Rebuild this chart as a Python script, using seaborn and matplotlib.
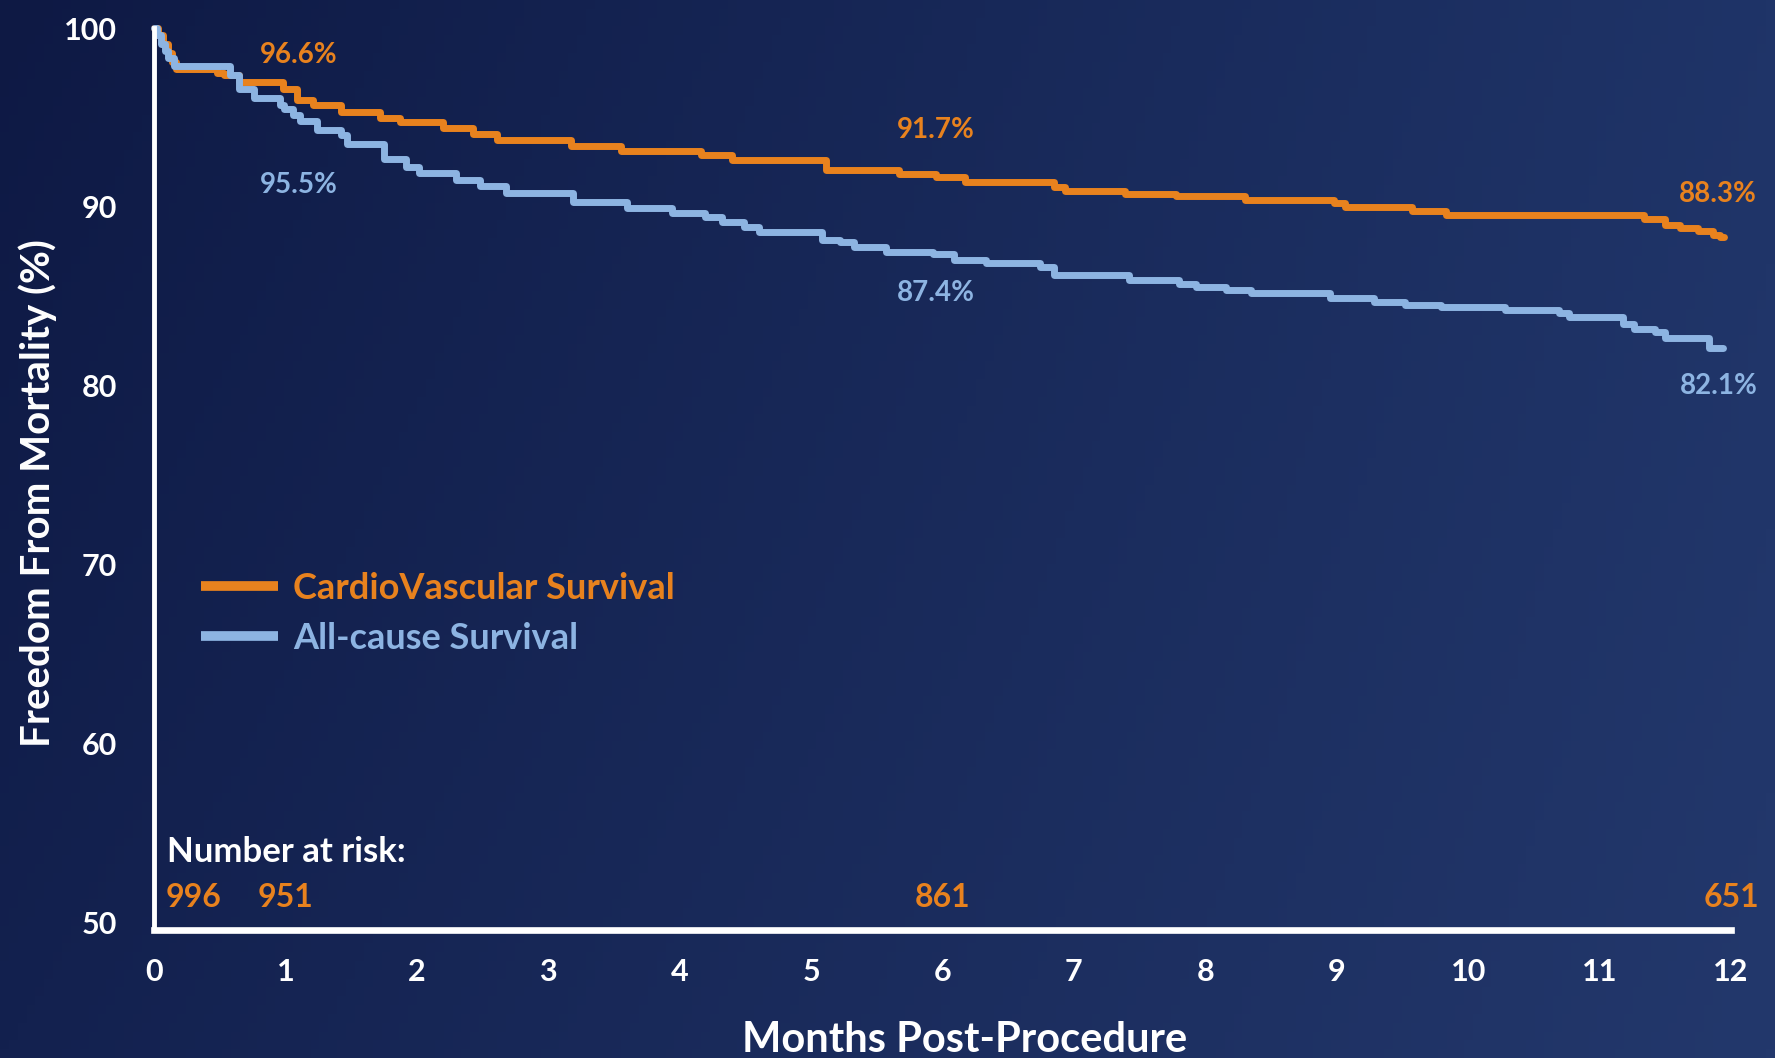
import numpy as np
import pandas as pd
import matplotlib
matplotlib.use("Agg")
import matplotlib.pyplot as plt
import seaborn as sns

# Kaplan-Meier step curves (months post-procedure, % free from mortality)
months_cv = [0, 0.03, 0.07, 0.11, 0.14, 0.17, 0.48, 0.53, 0.65, 0.98,
             1.09, 1.21, 1.42, 1.72, 1.87, 2.20, 2.43, 2.61, 3.17, 3.55,
             4.16, 4.40, 5.11, 5.67, 5.95, 6.17, 6.85, 6.93, 7.39, 7.78,
             8.30, 8.98, 9.06, 9.57, 9.83, 11.34, 11.50, 11.61, 11.75, 11.86,
             11.92, 11.95]
surv_cv = [100, 99.6, 99.1, 98.6, 98.1, 97.7, 97.5, 97.35, 97.0, 96.6,
           96.0, 95.7, 95.3, 94.95, 94.77, 94.4, 94.1, 93.75, 93.4, 93.1,
           92.9, 92.6, 92.07, 91.84, 91.7, 91.4, 91.1, 90.9, 90.7, 90.6,
           90.39, 90.2, 90.02, 89.8, 89.55, 89.35, 89.0, 88.8, 88.65, 88.45,
           88.3, 88.3]

months_all = [0, 0.02, 0.05, 0.08, 0.11, 0.15, 0.58, 0.65, 0.76, 0.96,
              0.99, 1.06, 1.11, 1.24, 1.42, 1.47, 1.75, 1.92, 2.02, 2.30,
              2.48, 2.68, 3.19, 3.60, 3.94, 4.19, 4.32, 4.49, 4.60, 5.08,
              5.22, 5.33, 5.57, 5.93, 6.09, 6.33, 6.74, 6.85, 7.42, 7.80,
              7.93, 8.16, 8.35, 8.95, 9.28, 9.52, 9.79, 10.28, 10.69, 10.77,
              11.18, 11.26, 11.42, 11.50, 11.83, 11.94]
surv_all = [100, 99.6, 99.1, 98.7, 98.3, 97.9, 97.4, 96.6, 96.1, 95.7,
            95.5, 95.15, 94.8, 94.3, 94.0, 93.5, 92.7, 92.25, 91.9, 91.5,
            91.15, 90.8, 90.3, 89.93, 89.65, 89.46, 89.18, 88.9, 88.62, 88.16,
            88.06, 87.78, 87.5, 87.4, 87.04, 86.85, 86.67, 86.2, 85.92, 85.68,
            85.51, 85.36, 85.18, 84.9, 84.7, 84.53, 84.4, 84.25, 84.06, 83.84,
            83.46, 83.2, 83.0, 82.67, 82.1, 82.1]

series_names = ["CardioVascular Survival", "All-cause Survival"]

# Milestone estimates at 1, 6 and 12 months
milestone_months = [1, 6, 12]
milestones_cv = [96.6, 91.7, 88.3]
milestones_all = [95.5, 87.4, 82.1]

# Number at risk
risk_months = [0, 1, 6, 12]
risk_counts = [996, 951, 861, 651]

x_ticks = list(range(0, 13))
y_ticks = list(range(50, 101, 10))

ORANGE = "#E8821E"
BLUE = "#8DB4E2"
WHITE = "#FFFFFF"

sns.set_theme(style="white")
plt.rcParams["font.family"] = ["Lato", "DejaVu Sans"]
plt.rcParams["font.weight"] = "bold"
plt.rcParams["axes.labelweight"] = "bold"

fig = plt.figure(figsize=(17.75, 10.58), dpi=100)

# navy gradient backdrop
bg = fig.add_axes([0, 0, 1, 1])
gx, gy = np.meshgrid(np.linspace(0, 1, 200), np.linspace(0, 1, 120))
tl = np.array([0x0e, 0x19, 0x44]) / 255
tr = np.array([0x1f, 0x34, 0x68]) / 255
bl = np.array([0x13, 0x21, 0x4f]) / 255
br = np.array([0x23, 0x38, 0x6c]) / 255
top = tl[None, None, :] * (1 - gx[..., None]) + tr[None, None, :] * gx[..., None]
bot = bl[None, None, :] * (1 - gx[..., None]) + br[None, None, :] * gx[..., None]
grad = top * (1 - gy[..., None]) + bot * gy[..., None]
bg.imshow(grad, extent=[0, 1, 0, 1], aspect="auto", origin="upper")
bg.set_axis_off()

ax = fig.add_axes([0.08676, 0.12098, 0.88845, 0.85255])
ax.patch.set_alpha(0)

df = pd.concat([
    pd.DataFrame({"Months": months_cv, "Survival": surv_cv, "Curve": series_names[0]}),
    pd.DataFrame({"Months": months_all, "Survival": surv_all, "Curve": series_names[1]}),
], ignore_index=True)

sns.lineplot(data=df, x="Months", y="Survival", hue="Curve",
             hue_order=series_names, palette=[ORANGE, BLUE],
             estimator=None, drawstyle="steps-post", linewidth=5,
             legend=False, ax=ax, clip_on=False)

ax.set_xlim(0, 12)
ax.set_ylim(49.6, 100)
ax.set_xticks(x_ticks)
ax.set_yticks(y_ticks)

for side in ("top", "right"):
    ax.spines[side].set_visible(False)
ax.spines["left"].set_color(WHITE)
ax.spines["left"].set_linewidth(3.5)
ax.spines["bottom"].set_color(WHITE)
ax.spines["bottom"].set_linewidth(4.8)

ax.tick_params(axis="y", direction="out", length=6.5, width=4.5, pad=20,
               labelsize=22, colors=WHITE)
ax.tick_params(axis="x", direction="out", length=11, width=3.5, pad=9,
               labelsize=22, colors=WHITE)

ax.set_ylabel("Freedom From Mortality (%)", fontsize=29, color=WHITE,
              fontweight="bold", va="center", ha="center")
ax.yaxis.set_label_coords(-0.0736, 0.484)
ax.set_xlabel("Months Post-Procedure", fontsize=30, color=WHITE,
              fontweight="bold", va="center")
ax.xaxis.set_label_coords(0.514, -0.122)

# milestone labels: CV above its curve, all-cause below
cv_label_xy = [(1.10, 98.5), (5.95, 94.3), (11.90, 90.75)]
all_label_xy = [(1.10, 91.2), (5.95, 85.2), (11.91, 80.0)]
for m, v, xy in zip(milestone_months, milestones_cv, cv_label_xy):
    ax.annotate(f"{v:.1f}%", xy=(m, v), xytext=xy, textcoords="data",
                ha="center", va="center", fontsize=20, color=ORANGE,
                annotation_clip=False)
for m, v, xy in zip(milestone_months, milestones_all, all_label_xy):
    ax.annotate(f"{v:.1f}%", xy=(m, v), xytext=xy, textcoords="data",
                ha="center", va="center", fontsize=20, color=BLUE,
                annotation_clip=False)

leg = ax.legend(ax.lines[:2], series_names, loc="upper left",
                bbox_to_anchor=(0.0298, 0.397), frameon=False,
                handlelength=2.14, handletextpad=0.4, labelspacing=0.46,
                borderpad=0, borderaxespad=0, labelcolor="linecolor",
                prop={"size": 26, "weight": "bold"})
for h in leg.get_lines():
    h.set_linewidth(7)
    h.set_solid_capstyle("butt")

# number at risk
ax.text(0.10, 53.97, "Number at risk:", ha="left", va="center",
        fontsize=25, color=WHITE)
for i, (m, n) in enumerate(zip(risk_months, risk_counts)):
    if i == 0:
        ax.text(m + 0.09, 51.42, str(n), ha="left", va="center",
                fontsize=23, color=ORANGE)
    else:
        ax.text(m, 51.42, str(n), ha="center", va="center",
                fontsize=23, color=ORANGE, clip_on=False)

fig.savefig("out.png", dpi=100)
